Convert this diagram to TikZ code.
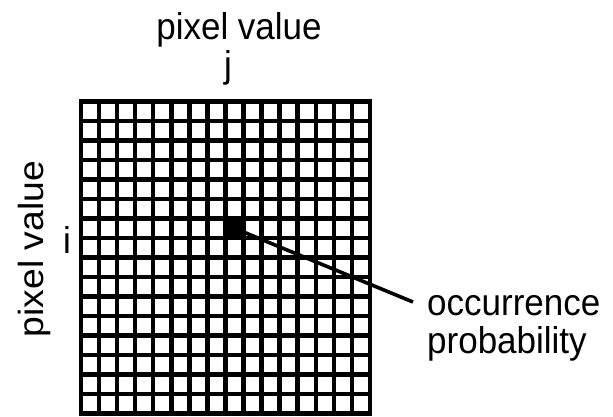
\documentclass[tikz,border=0pt]{standalone}
\usepackage{fontspec}
\setmainfont{Liberation Sans}
\tikzset{
  gridline/.style={line width=4.6pt, line cap=rect, draw=black},
  label/.style={inner sep=0pt, font=\fontsize{35pt}{38.5pt}\selectfont},
  pointer/.style={line width=3.6pt, draw=black},
  hotcell/.style={fill=black, draw=none, inner sep=0pt, minimum width=18.6pt, minimum height=20pt}
}
\begin{document}
\begin{tikzpicture}[x=1pt,y=-1pt]
\useasboundingbox (0,0) rectangle (613,416);
% grid 16 x 16
\foreach \k in {0,...,16} {
  \draw[gridline] ({80.8+18.08*\k},101.5) -- ({80.8+18.08*\k},413.5);
  \draw[gridline] (80.8,{101.5+19.5*\k}) -- (370.08,{101.5+19.5*\k});
}
% highlighted cell (column 9, row 7)
\node[hotcell] (cell) at (234.44,228.25) {};
\coordinate (tip) at (413,302);
\draw[pointer] (cell.center) -- (tip);
% labels
\node[label, anchor=base] (top) at (239,39) {\scalebox{1}[1.065]{pixel value}};
\node[label, anchor=base] (j) at (228,77) {\scalebox{1}[1.065]{j}};
\node[label, anchor=base, rotate=90] (left) at (43,249) {\scalebox{1.065}[1]{pixel value}};
\node[label, anchor=base] (i) at (67,253) {\scalebox{1}[1.065]{i}};
\node[label, anchor=base west] (occ) at (427,315) {\scalebox{1}[1.065]{occurrence}};
\node[label, anchor=base west] (prob) at (427,353) {\scalebox{1}[1.065]{probability}};
\end{tikzpicture}
\end{document}
